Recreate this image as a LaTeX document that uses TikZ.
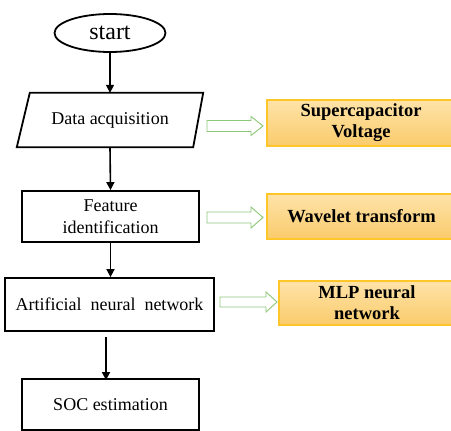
\documentclass[tikz,border=0pt]{standalone}
\usepackage{fontspec}
\setmainfont{Liberation Serif}
\usetikzlibrary{shapes.geometric,arrows.meta}
\definecolor{orfill1}{HTML}{FEE3A8}
\definecolor{orfill2}{HTML}{FACB6C}
\definecolor{orborder}{HTML}{FFC62A}
\definecolor{garrowc}{HTML}{8CC878}
\tikzset{
  flowbox/.style={draw=black, line width=1.8pt, rectangle, inner sep=0pt, align=center,
    font=\fontsize{18}{22}\selectfont},
  plainbox/.style={rectangle, inner sep=0pt, align=center, font=\fontsize{18}{22}\selectfont},
  orbox/.style={draw=orborder, line width=1.2pt, rectangle, inner sep=0pt, align=center,
    top color=orfill1, bottom color=orfill2,
    font=\fontsize{18.5}{21}\selectfont\bfseries},
  flowarrow/.style={line width=1.6pt, -{Triangle[length=8pt,width=8pt]}},
  garrow/.style={draw=garrowc, line width=0.9pt, fill=white, line join=miter},
}
\begin{document}
\begin{tikzpicture}[x=1pt,y=-1pt]
\useasboundingbox (0,0) rectangle (451,431);
\clip (0,0) rectangle (451,431);
\fill[white] (0,0) rectangle (451,431);

% flow nodes
\node[draw=black, line width=1.8pt, ellipse, minimum width=111pt, minimum height=38pt, inner sep=0pt,
  font=\fontsize{24}{28}\selectfont] (start) at (110,33) {start};
\node[plainbox, minimum width=186pt, minimum height=54pt] (data) at (110,120) {Data acquisition};
\draw[line width=1.8pt, line join=miter]
  ([xshift=13pt]data.north west) -- (data.north east) -- ([xshift=-10pt]data.south east)
  -- (data.south west) -- cycle;
\node[flowbox, minimum width=177pt, minimum height=51pt] (feat) at (110.5,216.5) {Feature\\identification};
\node[flowbox, minimum width=209pt, minimum height=53pt] (ann) at (109.5,304.5) {Artificial~ neural~ network};
\node[flowbox, minimum width=177pt, minimum height=51pt] (soc) at (110.5,404.5) {SOC estimation};

% side boxes
\node[orbox, minimum width=188pt, minimum height=46pt] (sv) at (361,123) {Supercapacitor\\Voltage};
\node[orbox, minimum width=189pt, minimum height=45pt] (wt) at (361.5,216.5) {Wavelet transform};
\node[orbox, minimum width=176pt, minimum height=44pt] (mlp) at (367,303) {MLP neural\\network};

% flow arrows
\draw[flowarrow] (start.south) -- (data.north);
\draw[flowarrow] (data.south) -- (feat.north);
\draw[flowarrow] (feat.south) -- (feat.south |- ann.north);
\draw[flowarrow] ([xshift=-3.5pt,yshift=-5pt]ann.south) -- ([xshift=-4.5pt,yshift=-2pt]soc.north);

% hollow green arrows
\draw[garrow] (207,120.5) -- (251,120.5) -- (251,116.5) -- (263,126) -- (251,135.5) -- (251,131.5) -- (207,131.5) -- cycle;
\draw[garrow] (207,212) -- (251,212) -- (251,207) -- (263,217.5) -- (251,228) -- (251,223) -- (207,223) -- cycle;
\draw[garrow] (220,297) -- (266,297) -- (266,292) -- (277,302) -- (266,312) -- (266,307) -- (220,307) -- cycle;
\end{tikzpicture}
\end{document}
